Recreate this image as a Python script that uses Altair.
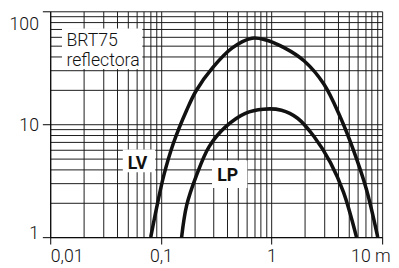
import altair as alt
import pandas as pd

# ---- data ----
lv_x = [0.081, 0.0925, 0.106, 0.130, 0.171, 0.209, 0.294, 0.442, 0.665, 0.873, 1.31, 1.975, 2.97, 4.18, 5.48, 7.19, 9.12]
lv_y = [1.0, 1.91, 3.49, 6.82, 13.3, 19.9, 31.7, 47.4, 57.8, 56.0, 47.4, 36.3, 22.7, 11.6, 5.96, 2.67, 1.0]
lp_x = [0.154, 0.171, 0.209, 0.274, 0.386, 0.580, 0.843, 1.23, 1.72, 2.42, 3.41, 4.47, 5.86]
lp_y = [1.0, 1.91, 3.49, 6.37, 9.52, 12.5, 13.6, 13.3, 11.3, 7.79, 4.57, 2.50, 1.0]

x_major = [0.01, 0.1, 1, 10]
x_major_labels = ["0,01", "0,1", "1", "10 m"]
y_major = [1, 10, 100]
y_major_labels = ["1", "10", "100"]
multipliers = [1, 2, 3, 4, 5, 6, 7, 8, 9]

x_grid = [round(m * d, 6) for d in [0.01, 0.1, 1] for m in multipliers] + [10]
y_grid = [round(m * d, 6) for d in [1, 10] for m in multipliers] + [100]

# annotations (data coordinates)
box_x = [0.01277, 0.0453, 0.290]
box_x2 = [0.0680, 0.0888, 0.605]
box_y = [70.4, 5.96, 4.78]
box_y2 = [30.9, 3.76, 2.73]

title_lines = ["BRT75", "reflectora"]
title_x = [0.0140, 0.0140]
title_y = [49.0, 32.8]

curve_names = ["LV", "LP"]
curve_label_x = [0.0615, 0.402]
curve_label_y = [4.41, 3.47]

# ---- build tables ----
rows = []
for i, (a, b) in enumerate(zip(lv_x, lv_y)):
    rows.append({"series": "LV", "x": a, "y": b, "o": i})
for i, (a, b) in enumerate(zip(lp_x, lp_y)):
    rows.append({"series": "LP", "x": a, "y": b, "o": i})
curves = pd.DataFrame(rows)
boxes = pd.DataFrame({"x": box_x, "x2": box_x2, "y": box_y, "y2": box_y2})
titles = pd.DataFrame({"t": title_lines, "x": title_x, "y": title_y})
clabels = pd.DataFrame({"t": curve_names, "x": curve_label_x, "y": curve_label_y})


def label_expr(vals, labs):
    parts = []
    for v, l in zip(vals, labs):
        parts.append(f"abs(datum.value - {v}) < {v} * 0.001 ? '{l}'")
    return " : ".join(parts) + " : ''"


decade_test = "abs(log(datum.value)/LN10 - round(log(datum.value)/LN10)) < 0.001"
FONT = "Roboto"

xscale = alt.Scale(type="log", domain=[0.01, 10], nice=False)
yscale = alt.Scale(type="log", domain=[1, 100], nice=False)

x_axis = alt.Axis(
    values=x_grid, grid=True, gridColor="#1a1a1a", gridWidth=1, gridOpacity=1,
    domainColor="#000", domainWidth=1, tickColor="#000", tickSize=7, tickWidth=1,
    tickOpacity={"condition": {"test": decade_test, "value": 1}, "value": 0},
    labelExpr=label_expr(x_major, x_major_labels), labelFont=FONT, labelFontSize=18,
    labelFontWeight=300, labelColor="#111", labelPadding=4, labelOverlap=False,
    labelFlush=False, labelBound=False,
    labelAlign={"condition": {"test": "datum.value < 0.011", "value": "left"}, "value": "center"},
    labelOffset={"condition": {"test": "datum.value > 5", "value": -12}, "value": 0},
    title=None,
)
y_axis = alt.Axis(
    values=y_grid, grid=True, gridColor="#1a1a1a", gridWidth=1, gridOpacity=1,
    domainColor="#000", domainWidth=1, tickColor="#000", tickSize=8, tickWidth=1,
    tickOpacity={"condition": {"test": decade_test, "value": 1}, "value": 0},
    labelExpr=label_expr(y_major, y_major_labels), labelFont=FONT, labelFontSize=18,
    labelFontWeight=300, labelColor="#111", labelPadding=4, labelOverlap=False,
    labelFlush=False, labelBound=False,
    labelBaseline={"condition": {"test": "datum.value > 5 && datum.value < 50", "value": "middle"}, "value": "alphabetic"},
    labelOffset={"condition": {"test": "datum.value > 50", "value": 19}, "value": 1},
    title=None,
)

rects = alt.Chart(boxes).mark_rect(fill="white", stroke=None).encode(
    x=alt.X("x:Q", scale=xscale, axis=x_axis), x2="x2:Q",
    y=alt.Y("y:Q", scale=yscale, axis=y_axis), y2="y2:Q",
)

lines = alt.Chart(curves).mark_line(
    color="#111", strokeWidth=3.6, interpolate="catmull-rom", clip=True
).encode(
    x=alt.X("x:Q", scale=xscale), y=alt.Y("y:Q", scale=yscale),
    detail="series:N", order="o:Q",
)

title_text = alt.Chart(titles).mark_text(
    align="left", baseline="alphabetic", font=FONT, fontSize=18, fontWeight=300, color="#111"
).encode(x=alt.X("x:Q", scale=xscale), y=alt.Y("y:Q", scale=yscale), text="t:N")

curve_text = alt.Chart(clabels).mark_text(
    align="center", baseline="middle", font=FONT, fontSize=18, fontWeight="bold", color="#111"
).encode(x=alt.X("x:Q", scale=xscale), y=alt.Y("y:Q", scale=yscale), text="t:N")

chart = alt.layer(rects, lines, title_text, curve_text).properties(
    width=338, height=230,
    autosize=alt.AutoSizeParams(type="none"),
    padding={"left": 43, "top": 1, "right": 9, "bottom": 27},
    background="white",
).configure_view(stroke=None)

chart.save("out.html", embed_options={"renderer": "svg", "actions": False})
